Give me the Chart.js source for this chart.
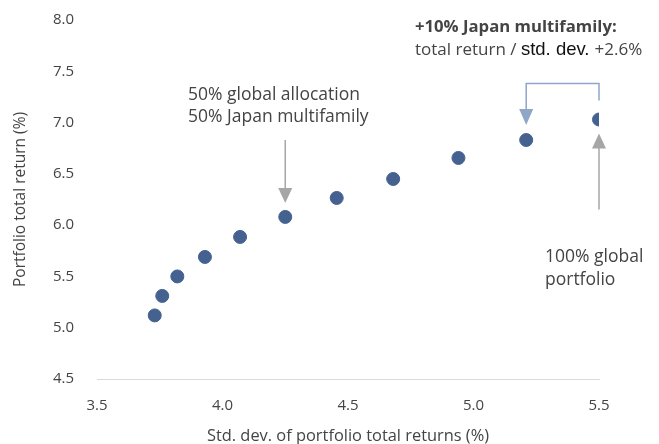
<!DOCTYPE html>
<html>
<head>
<meta charset="utf-8">
<script src="https://cdn.jsdelivr.net/npm/chart.js@4"></script>
<style>
  html, body { margin: 0; padding: 0; background: #fff; }
  #wrap { width: 659px; height: 444px; }
</style>
</head>
<body>
<div id="wrap"><canvas id="riskChart" width="659" height="444"></canvas></div>
<script>
// Desviación estándar (x) y retorno total (y) de cada cartera
const stdDev = [3.73, 3.76, 3.82, 3.93, 4.07, 4.25, 4.455, 4.68, 4.94, 5.21, 5.50];
const totalReturn = [5.12, 5.31, 5.50, 5.69, 5.885, 6.08, 6.265, 6.45, 6.655, 6.83, 7.03];
const xTicks = [3.5, 4.0, 4.5, 5.0, 5.5];
const yTicks = [4.5, 5.0, 5.5, 6.0, 6.5, 7.0, 7.5, 8.0];

const FONT = '"Open Sans", Lato, sans-serif';
const TEXT = '#444444';

// Flechas y textos anotados, anclados a los puntos a través de las escalas
const notes = {
    id: 'notes',
    afterDatasetsDraw(chart) {
        const c = chart.ctx;
        const xs = chart.scales.x, ys = chart.scales.y;
        const p50x = xs.getPixelForValue(stdDev[5]);
        const p50y = ys.getPixelForValue(totalReturn[5]);
        const p100x = xs.getPixelForValue(stdDev[10]);
        const p100y = ys.getPixelForValue(totalReturn[10]);
        const p90x = xs.getPixelForValue(stdDev[9]);
        const p90y = ys.getPixelForValue(totalReturn[9]);

        function arrow(x, y1, y2, color) {
            const dir = y2 > y1 ? 1 : -1;
            c.strokeStyle = color;
            c.fillStyle = color;
            c.lineWidth = 1.5;
            c.beginPath();
            c.moveTo(x, y1);
            c.lineTo(x, y2 - dir * 12);
            c.stroke();
            c.beginPath();
            c.moveTo(x - 7, y2 - dir * 15);
            c.lineTo(x + 7, y2 - dir * 15);
            c.lineTo(x, y2);
            c.closePath();
            c.fill();
        }

        c.save();
        // 50/50
        arrow(p50x, p50y - 77, p50y - 14, '#a6a6a6');
        // 100% global
        arrow(p100x, p100y + 90, p100y + 14, '#a6a6a6');
        // conector +10%
        c.strokeStyle = '#8fa6c9';
        c.lineWidth = 1.5;
        c.beginPath();
        c.moveTo(p100x, p100y - 19);
        c.lineTo(p100x, p100y - 36);
        c.lineTo(p90x, p100y - 36);
        c.lineTo(p90x, p90y - 28);
        c.stroke();
        c.fillStyle = '#8fa6c9';
        c.beginPath();
        c.moveTo(p90x - 7, p90y - 31);
        c.lineTo(p90x + 7, p90y - 31);
        c.lineTo(p90x, p90y - 15);
        c.closePath();
        c.fill();

        c.fillStyle = TEXT;
        c.textBaseline = 'middle';
        c.textAlign = 'left';
        c.font = '17.5px ' + FONT;
        c.fillText('50% global allocation', 188, 95);
        c.fillText('50% Japan multifamily', 188, 117);
        c.fillText('100% global', 545, 257);
        c.fillText('portfolio', 545, 280);

        c.font = 'bold 16.7px ' + FONT;
        c.fillText('+10% Japan multifamily:', 415, 27);
        c.font = '17px ' + FONT;
        let tx = 415;
        c.fillText('total return / ', tx, 50);
        tx += c.measureText('total return / ').width;
        c.fillStyle = '#111111';
        c.font = '18.5px "Liberation Sans", Arial, sans-serif';
        c.fillText('std. dev.', tx, 50);
        tx += c.measureText('std. dev. ').width;
        c.fillStyle = TEXT;
        c.font = '17px ' + FONT;
        c.fillText('+2.6%', tx, 50);
        c.restore();
    }
};

const ctx = document.getElementById('riskChart').getContext('2d');
const riskChart = new Chart(ctx, {
    type: 'scatter',
    data: {
        datasets: [{
            data: stdDev.map((x, i) => ({ x: x, y: totalReturn[i] })),
            backgroundColor: '#44618f',
            borderColor: '#44618f',
            pointRadius: 6.5,
            pointHoverRadius: 6.5
        }]
    },
    options: {
        responsive: false,
        animation: false,
        layout: { padding: { top: 20, right: 60, left: 7, bottom: -2 } },
        plugins: { legend: { display: false }, tooltip: { enabled: false } },
        scales: {
            x: {
                type: 'linear',
                min: 3.5, max: 5.5,
                afterBuildTicks: axis => { axis.ticks = xTicks.map(v => ({ value: v })); },
                afterFit: axis => { axis.height = 67; },
                grid: { display: false },
                border: { display: true, color: '#d9d9d9' },
                ticks: { color: TEXT, font: { family: FONT, size: 15 }, padding: 10, callback: v => v.toFixed(1) },
                title: { display: true, text: 'Std. dev. of portfolio total returns (%)', color: TEXT, font: { family: FONT, size: 16.4 }, padding: { top: 0, bottom: 0 } }
            },
            y: {
                min: 4.5, max: 8.0,
                afterBuildTicks: axis => { axis.ticks = yTicks.map(v => ({ value: v })); },
                afterFit: axis => { axis.width = 90; axis.paddingTop = 0; axis.paddingBottom = 0; },
                grid: { display: false },
                border: { display: false },
                ticks: { color: TEXT, font: { family: FONT, size: 15 }, padding: 15, callback: v => v.toFixed(1) },
                title: { display: true, text: 'Portfolio total return (%)', color: TEXT, font: { family: FONT, size: 15.5 }, padding: { top: 4, bottom: 4 } }
            }
        }
    },
    plugins: [notes]
});
</script>
</body>
</html>
